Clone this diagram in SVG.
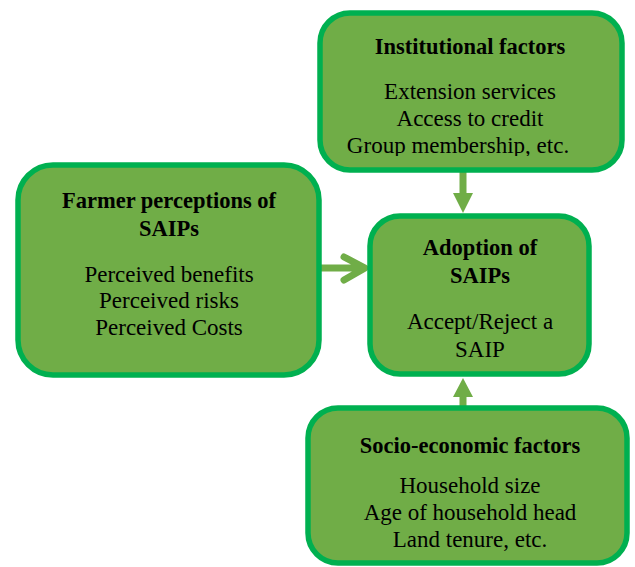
<svg xmlns="http://www.w3.org/2000/svg" width="635" height="567" viewBox="0 0 635 567">
<style>
.box{fill:#70AD47;stroke:#00B050;stroke-width:5.5}
.t{font-family:"Liberation Serif","Times New Roman",serif;font-size:23px;fill:#000;text-anchor:middle}
.b{font-weight:bold;font-size:22.5px}
.arr{fill:#70AD47}
.arl{fill:none;stroke:#70AD47;stroke-width:7;stroke-linecap:round;stroke-linejoin:round}
</style>
<defs>
<clipPath id="clipTop"><rect x="300" y="0" width="335" height="156"/></clipPath>
</defs>
<rect width="635" height="567" fill="#fff"/>
<g id="connectors">
<path class="arr" d="M459.5,172 h7 v21 h6.5 l-10,20 l-10,-20 h6.5 z"/>
<path class="arl" d="M320,268 H364 M344,257 L365,268 L344,280"/>
<path class="arr" d="M459.5,406 h7 v-9 h6.5 l-10,-19 l-10,19 h6.5 z"/>
</g>
<g id="institutional">
<rect class="box" x="320" y="13" width="302" height="157" rx="30"/>
<text class="t b" x="470" y="54">Institutional factors</text>
<text class="t" x="470" y="99">Extension services</text>
<text class="t" x="470" y="126">Access to credit</text>
<text class="t" x="458" y="153" clip-path="url(#clipTop)">Group membership, etc.</text>
</g>
<g id="farmer">
<rect class="box" x="18" y="165" width="301" height="210" rx="35"/>
<text class="t b" x="169" y="208">Farmer perceptions of</text>
<text class="t b" x="169" y="236">SAIPs</text>
<text class="t" x="169" y="282">Perceived benefits</text>
<text class="t" x="169" y="308">Perceived risks</text>
<text class="t" x="169" y="335">Perceived Costs</text>
</g>
<g id="adoption">
<rect class="box" x="370" y="216" width="219" height="158" rx="30"/>
<text class="t b" x="480" y="255">Adoption of</text>
<text class="t b" x="480" y="283">SAIPs</text>
<text class="t" x="480" y="329">Accept/Reject a</text>
<text class="t" x="480" y="357">SAIP</text>
</g>
<g id="socio">
<rect class="box" x="308" y="408" width="319" height="155" rx="30"/>
<text class="t b" x="470" y="453">Socio-economic factors</text>
<text class="t" x="470" y="493">Household size</text>
<text class="t" x="470" y="520">Age of household head</text>
<text class="t" x="470" y="547">Land tenure, etc.</text>
</g>
</svg>
